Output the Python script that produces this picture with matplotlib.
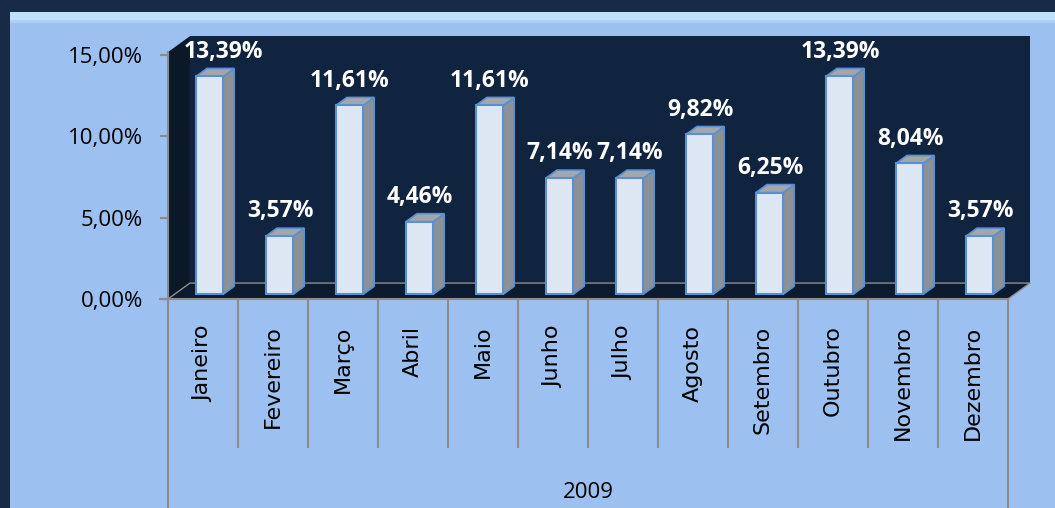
import matplotlib.pyplot as plt
from matplotlib.patches import Rectangle, Polygon

months = ["Janeiro", "Fevereiro", "Março", "Abril", "Maio", "Junho", "Julho",
          "Agosto", "Setembro", "Outubro", "Novembro", "Dezembro"]
values = [13.39, 3.57, 11.61, 4.46, 11.61, 7.14, 7.14, 9.82, 6.25, 13.39, 8.04, 3.57]
year = "2009"
yticks = [0, 5, 10, 15]
ytick_labels = ["0,00%", "5,00%", "10,00%", "15,00%"]

W, H = 1055, 508
fig = plt.figure(figsize=(W / 100, H / 100), dpi=100)
fig.patch.set_facecolor("#172b49")

# light blue panel with a lighter bevel at the top
fig.add_artist(Rectangle((10 / W, 0), 1, (H - 12) / H, transform=fig.transFigure,
                         facecolor="#9cc0f0", edgecolor="none", zorder=0))
fig.add_artist(Rectangle((10 / W, (H - 20) / H), 1, 8 / H, transform=fig.transFigure,
                         facecolor="#bfe2fa", edgecolor="none", zorder=0))
fig.add_artist(Rectangle((10 / W, (H - 23) / H), 1, 3 / H, transform=fig.transFigure,
                         facecolor="#abd0f5", edgecolor="none", zorder=0))

ax = fig.add_axes([168 / W, 209 / H, 840 / W, 244 / H])
ax.set_xlim(-0.5, 11.5)
ax.set_ylim(0, 15)
ax.patch.set_visible(False)
for s in ax.spines.values():
    s.set_visible(False)

n = len(values)
DX, DY = 0.314, 0.98          # depth of the 3d box in data units
TOP = 16.16
gray = "#8c8c8c"

# back wall, left wall, floor
ax.add_patch(Rectangle((-0.5 + DX, DY), n, TOP - DY, facecolor="#10233f",
                       edgecolor="none", zorder=1, clip_on=False))
ax.add_patch(Polygon([(-0.5, 0), (-0.5 + DX, DY), (-0.5 + DX, TOP), (-0.5, TOP - DY)],
                     facecolor="#0b1828", edgecolor="none", zorder=1, clip_on=False))
ax.add_patch(Polygon([(-0.5, 0), (n - 0.5, 0), (n - 0.5 + DX, DY), (-0.5 + DX, DY)],
                     facecolor="#0b1a2e", edgecolor="none", zorder=1, clip_on=False))
ax.plot([-0.5, -0.5 + DX, n - 0.5 + DX, n - 0.5], [0, DY, DY, 0], color=gray,
        lw=1, zorder=2, clip_on=False)

# axis lines
ax.plot([-0.5, -0.5], [0, 15.2], color=gray, lw=1.5, zorder=2, clip_on=False)
ax.plot([-0.5 - 8 / 70, n - 0.5], [0, 0], color=gray, lw=1.5, zorder=2, clip_on=False)
for k in range(n + 1):
    bottom = -12.9 if k in (0, n) else -9.1
    ax.plot([k - 0.5, k - 0.5], [0, bottom], color=gray, lw=1.5, zorder=2, clip_on=False)

ax.set_yticks(yticks)
ax.set_yticklabels(ytick_labels, fontsize=16, family="Open Sans", color="black")
ax.tick_params(axis="y", length=6, width=1.5, color=gray, pad=12)
ax.set_xticks(range(n))
ax.set_xticklabels(months, rotation=90, va="top", fontsize=16, family="DejaVu Sans")
ax.tick_params(axis="x", length=0, pad=19)
ax.text(5.5, -11.9, year, ha="center", va="center", fontsize=16, family="Open Sans",
        clip_on=False)

# 3d bars
f = 0.3
w = 0.39
bdx, bdy = DX / 2, DY / 2
edge = "#5b8fd0"
for i, v in enumerate(values):
    x0 = i + f * DX - w / 2
    bot = f * DY
    top = v + f * DY
    ax.add_patch(Polygon([(x0 + w, bot), (x0 + w + bdx, bot + bdy), (x0 + w + bdx, top + bdy),
                          (x0 + w, top)], facecolor="#8a9199", edgecolor=edge, lw=1.2,
                         zorder=3, clip_on=False))
    ax.add_patch(Polygon([(x0, top), (x0 + bdx, top + bdy), (x0 + w + bdx, top + bdy),
                          (x0 + w, top)], facecolor="#a3a7ac", edgecolor=edge, lw=1.2,
                         zorder=3, clip_on=False))
    ax.add_patch(Rectangle((x0, bot), w, v, facecolor="#dde7f3", edgecolor=edge, lw=1.5,
                           zorder=4, clip_on=False))
    lx = i + 0.1 if i > 0 else 0.29
    ax.text(lx, top + bdy + 0.3, f"{v:.2f}%".replace(".", ","), ha="center", va="bottom",
            fontsize=16.5, fontweight="bold", family="Open Sans", color="white", zorder=5)

fig.savefig("out.png", dpi=100, facecolor=fig.get_facecolor())
